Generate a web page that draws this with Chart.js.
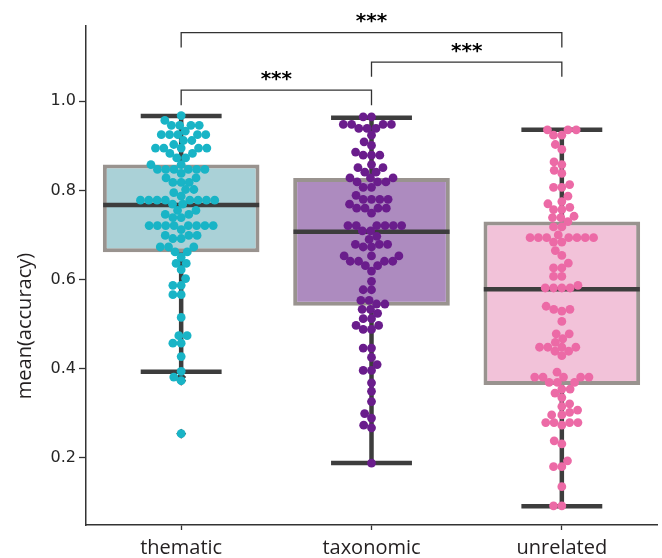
<!DOCTYPE html>
<html>
<head>
<meta charset="utf-8">
<script src="https://cdn.jsdelivr.net/npm/chart.js@4"></script>
<style>
  html, body { margin: 0; padding: 0; background: #fff; }
</style>
</head>
<body>
<canvas id="chart" width="662" height="558"></canvas>
<script>
// Categories and box statistics
const categories = ['thematic', 'taxonomic', 'unrelated'];
const boxLow = [0.661, 0.541, 0.363];
const boxHigh = [0.858, 0.828, 0.730];
const medians = [0.767, 0.707, 0.578];
const whiskerLow = [0.393, 0.188, 0.091];
const whiskerHigh = [0.967, 0.963, 0.936];
const fliers = [[0.381, 0.373, 0.254], [], []];

// Individual participant scores (swarm)
const thematicScores = [
  0.968, 0.957, 0.946, 0.946, 0.946, 0.946, 0.933, 0.925, 0.925, 0.925, 0.925, 0.925,
  0.912, 0.912, 0.903, 0.895, 0.895, 0.895, 0.895, 0.895, 0.883, 0.883, 0.873, 0.873,
  0.858, 0.858, 0.847, 0.847, 0.847, 0.847, 0.847, 0.847, 0.838, 0.828, 0.828,
  0.818, 0.818, 0.818, 0.802, 0.802, 0.795, 0.787,
  0.778, 0.778, 0.778, 0.778, 0.778, 0.778, 0.778, 0.778, 0.769, 0.769,
  0.755, 0.755, 0.746, 0.746, 0.739, 0.739,
  0.721, 0.721, 0.721, 0.721, 0.721, 0.721, 0.721, 0.721, 0.712,
  0.699, 0.699, 0.699, 0.692, 0.692, 0.673, 0.673, 0.673, 0.662, 0.662, 0.650,
  0.636, 0.636, 0.622, 0.602, 0.587, 0.587, 0.566, 0.566, 0.515,
  0.474, 0.474, 0.457, 0.457, 0.427, 0.394, 0.381, 0.373, 0.254
];
const taxonomicScores = [
  0.965, 0.965, 0.948, 0.948, 0.948, 0.948, 0.939, 0.939, 0.939, 0.924, 0.909, 0.901,
  0.886, 0.879, 0.879, 0.879, 0.858, 0.851, 0.851, 0.841, 0.841,
  0.828, 0.828, 0.828, 0.819, 0.819, 0.819, 0.807, 0.807, 0.789,
  0.780, 0.780, 0.780, 0.780, 0.769, 0.760, 0.760, 0.760, 0.760, 0.749,
  0.721, 0.721, 0.721, 0.721, 0.721, 0.721, 0.709, 0.709, 0.697, 0.690,
  0.679, 0.679, 0.679, 0.673, 0.673, 0.653, 0.653, 0.653, 0.641, 0.641, 0.641, 0.641,
  0.631, 0.631, 0.619, 0.596, 0.577, 0.577, 0.553, 0.553, 0.545, 0.545, 0.533, 0.533,
  0.524, 0.512, 0.512, 0.497, 0.497, 0.488, 0.488, 0.446, 0.446, 0.425, 0.409,
  0.396, 0.396, 0.368, 0.349, 0.326, 0.299, 0.289, 0.273, 0.267, 0.188
];
const unrelatedScores = [
  0.936, 0.936, 0.936, 0.924, 0.924, 0.903, 0.892, 0.864, 0.858, 0.845, 0.838,
  0.813, 0.807, 0.807, 0.787, 0.775, 0.770, 0.762, 0.757, 0.757, 0.742, 0.739, 0.739,
  0.730, 0.718, 0.718, 0.700, 0.694, 0.694, 0.694, 0.694, 0.694, 0.694, 0.694,
  0.684, 0.684, 0.665, 0.654, 0.637, 0.626, 0.626, 0.607, 0.607, 0.587,
  0.581, 0.581, 0.581, 0.581, 0.540, 0.533, 0.533, 0.529, 0.506,
  0.478, 0.478, 0.467, 0.459, 0.448, 0.448, 0.448, 0.448, 0.439, 0.439, 0.429,
  0.392, 0.381, 0.381, 0.381, 0.381, 0.381, 0.369, 0.369, 0.369, 0.354, 0.354,
  0.345, 0.335, 0.321, 0.315, 0.307, 0.302, 0.296, 0.296,
  0.279, 0.279, 0.279, 0.279, 0.273, 0.238, 0.231, 0.193, 0.180, 0.180, 0.135, 0.092, 0.092
];
const scores = [thematicScores, taxonomicScores, unrelatedScores];

// Significance brackets
const bracketPairs = [[0, 1], [1, 2], [0, 2]];
const bracketTop = [1.025, 1.088, 1.154];
const bracketFoot = [0.991, 1.055, 1.121];
const bracketLabels = ['***', '***', '***'];

// Axis
const yTicks = [0.2, 0.4, 0.6, 0.8, 1.0];
const yMin = 0.049;
const yMax = 1.169;
const yTitle = 'mean(accuracy)';

const boxColors = ['#aad1d7', '#ad8bbf', '#f2c2d9'];
const pointColors = ['#19b4c6', '#6a1d8c', '#ec6aa6'];

const boxHalf = 0.41;
const capHalf = 0.2125;

// Build whisker / median segments on the numeric x axis
const whiskerLines = [];
const medianLines = [];
categories.forEach((c, i) => {
  whiskerLines.push(
    {x: i, y: boxHigh[i]}, {x: i, y: whiskerHigh[i]}, {x: i, y: null},
    {x: i, y: boxLow[i]}, {x: i, y: whiskerLow[i]}, {x: i, y: null},
    {x: i - capHalf, y: whiskerHigh[i]}, {x: i + capHalf, y: whiskerHigh[i]}, {x: i, y: null},
    {x: i - capHalf, y: whiskerLow[i]}, {x: i + capHalf, y: whiskerLow[i]}, {x: i, y: null}
  );
  medianLines.push({x: i - boxHalf, y: medians[i]}, {x: i + boxHalf, y: medians[i]}, {x: i, y: null});
});

const bracketLines = [];
bracketPairs.forEach(([a, b], k) => {
  bracketLines.push(
    {x: a, y: bracketFoot[k]}, {x: a, y: bracketTop[k]},
    {x: b, y: bracketTop[k]}, {x: b, y: bracketFoot[k]}, {x: a, y: null}
  );
});

const flierPoints = [];
fliers.forEach((list, i) => list.forEach(v => flierPoints.push({x: i, y: v})));

// seaborn-style beeswarm, in pixels
function beeswarm(ys, d) {
  const idx = ys.map((_, k) => k).sort((a, b) => ys[b] - ys[a]);
  const placed = [];
  const xs = [];
  idx.forEach(k => {
    const y = ys[k];
    const nb = placed.filter(p => Math.abs(p.y - y) < d);
    const cands = [0];
    let leftFirst = true;
    nb.forEach(p => {
      const dx = Math.sqrt(Math.max(d * d - (p.y - y) ** 2, 0)) * 1.05;
      const pair = [p.x - dx, p.x + dx];
      cands.push(...(leftFirst ? pair : pair.reverse()));
      leftFirst = !leftFirst;
    });
    cands.sort((a, b) => Math.abs(a) - Math.abs(b));
    const x = cands.find(c => nb.every(p => (p.x - c) ** 2 + (p.y - y) ** 2 >= d * d * 0.999));
    placed.push({x, y});
    xs[k] = x;
  });
  return xs;
}

// Stars and the y title
const annotations = {
  id: 'annotations',
  afterDraw(chart) {
    const {ctx, scales: {x, y}} = chart;
    ctx.save();
    ctx.fillStyle = '#000';
    ctx.font = 'bold 20px "DejaVu Sans"';
    ctx.textAlign = 'center';
    ctx.textBaseline = 'alphabetic';
    bracketPairs.forEach(([a, b], k) => {
      const cx = (x.getPixelForValue(a) + x.getPixelForValue(b)) / 2;
      ctx.fillText(bracketLabels[k], cx, y.getPixelForValue(bracketTop[k]) - 5.5);
    });
    ctx.translate(25, 326);
    ctx.rotate(-Math.PI / 2);
    ctx.font = '20px "Open Sans"';
    ctx.fillStyle = '#231f20';
    ctx.textBaseline = 'middle';
    ctx.fillText(yTitle, 0, 0);
    ctx.restore();
  }
};

Chart.defaults.font.family = 'DejaVu Sans';

const swarmSets = scores.map((vals, i) => ({
  type: 'scatter',
  data: vals.map(v => ({x: i, y: v})),
  backgroundColor: pointColors[i],
  borderWidth: 0,
  pointRadius: 4.4,
  order: 1
}));

const ctx = document.getElementById('chart').getContext('2d');
const chart = new Chart(ctx, {
  type: 'scatter',
  data: {
    datasets: [
      {
        type: 'bar',
        data: categories.map((c, i) => ({x: i, y: [boxLow[i], boxHigh[i]]})),
        backgroundColor: boxColors,
        borderColor: '#99938f',
        borderWidth: 4,
        borderSkipped: false,
        barPercentage: 0.823,
        categoryPercentage: 1,
        order: 6
      },
      {
        type: 'line',
        data: whiskerLines,
        borderColor: '#3d3d3d',
        borderWidth: 4.5,
        pointRadius: 0,
        spanGaps: false,
        order: 5
      },
      {
        type: 'line',
        data: medianLines,
        borderColor: '#3d3d3d',
        borderWidth: 4.5,
        pointRadius: 0,
        spanGaps: false,
        order: 4
      },
      {
        type: 'scatter',
        data: flierPoints,
        pointStyle: 'rectRot',
        pointRadius: 5,
        backgroundColor: '#3d3d3d',
        borderWidth: 0,
        order: 3
      },
      ...swarmSets,
      {
        type: 'line',
        data: bracketLines,
        borderColor: '#333',
        borderWidth: 1.3,
        pointRadius: 0,
        spanGaps: false,
        order: 0
      }
    ]
  },
  options: {
    responsive: false,
    animation: false,
    events: [],
    layout: { padding: { top: 26, right: 2, left: 0, bottom: 0 } },
    plugins: { legend: { display: false }, tooltip: { enabled: false } },
    scales: {
      x: {
        type: 'linear',
        min: -0.5,
        max: 2.5,
        offset: false,
        afterBuildTicks: s => { s.ticks = categories.map((c, i) => ({ value: i })); },
        grid: { offset: false, drawOnChartArea: false, drawTicks: true, tickLength: 5, tickWidth: 1.3, tickColor: '#333' },
        border: { display: true, color: '#333', width: 1.5 },
        ticks: { color: '#231f20', padding: 6, font: { family: 'Open Sans', size: 20 }, callback: v => categories[v] },
        afterFit: s => { s.height = 33; }
      },
      y: {
        type: 'linear',
        min: yMin,
        max: yMax,
        afterBuildTicks: s => { s.ticks = yTicks.map(v => ({ value: v })); },
        grid: { drawOnChartArea: false, drawTicks: true, tickLength: 7, tickWidth: 1.3, tickColor: '#333' },
        border: { display: true, color: '#333', width: 1.5 },
        ticks: { color: '#262626', padding: 3, font: { size: 16 }, callback: v => v.toFixed(1) },
        afterFit: s => { s.width = 86; }
      }
    }
  },
  plugins: [annotations]
});

// Lay the points out as a swarm once the scales exist
const yScale = chart.scales.y;
const xScale = chart.scales.x;
const catPx = xScale.getPixelForValue(1) - xScale.getPixelForValue(0);
scores.forEach((vals, i) => {
  const offs = beeswarm(vals.map(v => yScale.getPixelForValue(v)), 7.9);
  swarmSets[i].data = vals.map((v, k) => ({ x: i + offs[k] / catPx, y: v }));
});
chart.update();
</script>
</body>
</html>
